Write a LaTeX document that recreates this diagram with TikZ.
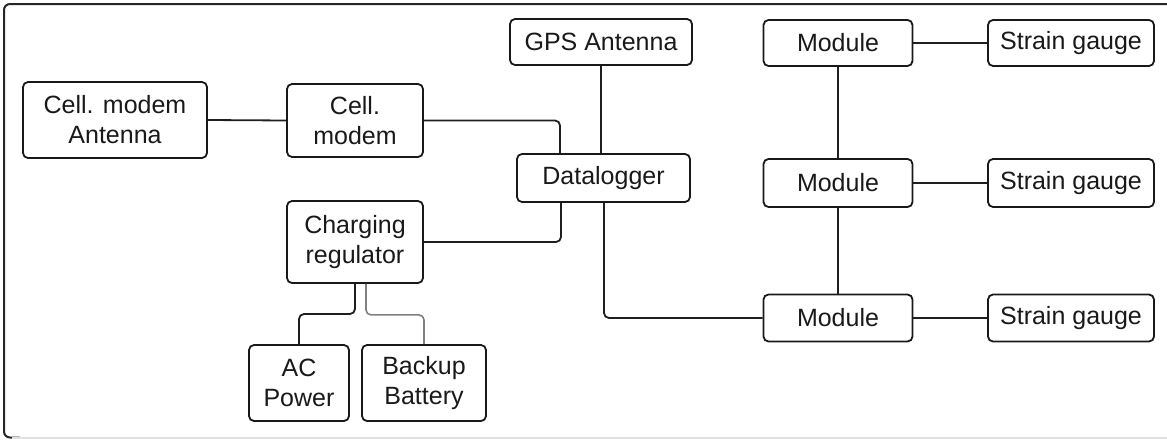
\documentclass[tikz,border=0pt]{standalone}
\usepackage{fontspec}
\setmainfont{Liberation Sans}
\begin{document}
\begin{tikzpicture}[x=1pt,y=-1pt,
  blk/.style={draw=black!90, line width=1.8pt, rounded corners=5pt, inner sep=0pt,
    align=center, font=\fontsize{25}{30}\selectfont, text=black!90},
  wire/.style={draw=black!88, line width=1.8pt, rounded corners=5pt},
  gwire/.style={draw=black!50, line width=1.6pt, rounded corners=5pt}]
\useasboundingbox (0,0) rectangle (1167,439);
% outer frame
\draw[black!85, line width=2pt, rounded corners=6pt] (1175,4) -- (4,4) -- (4,437.5) -- (20,437.5);
\draw[black!12, line width=2pt] (12,437.5) -- (1167,437.5);
% blocks
\node[blk, minimum width=184pt, minimum height=76pt] (cma) at (115,120) {Cell. modem\\Antenna};
\node[blk, minimum width=136pt, minimum height=73pt] (cm) at (355,120.5) {Cell.\\modem};
\node[blk, minimum width=182pt, minimum height=46pt] (gps) at (601,42) {GPS Antenna};
\node[blk, minimum width=173pt, minimum height=48pt] (dl) at (603.5,178) {Datalogger};
\node[blk, minimum width=136pt, minimum height=82pt] (cr) at (355,242) {Charging\\regulator};
\node[blk, minimum width=100pt, minimum height=76pt] (ac) at (299,383) {AC\\Power};
\node[blk, minimum width=124pt, minimum height=76pt] (bb) at (424,383) {Backup\\Battery};
\node[blk, minimum width=149pt, minimum height=46pt] (m1) at (838,43) {Module};
\node[blk, minimum width=166pt, minimum height=46pt] (s1) at (1071,43) {Strain gauge};
\node[blk, minimum width=149pt, minimum height=48pt] (m2) at (838,183) {Module};
\node[blk, minimum width=166pt, minimum height=48pt] (s2) at (1071,183) {Strain gauge};
\node[blk, minimum width=149pt, minimum height=47pt] (m3) at (838,318) {Module};
\node[blk, minimum width=166pt, minimum height=47pt] (s3) at (1071,318) {Strain gauge};
% connections
\draw[wire] (cma.east) -- (cm.east -| cm.west);
\draw[wire] (cm.east) -| ([xshift=-43.5pt]dl.north);
\draw[wire] (gps.south) -- (gps.south |- dl.north);
\draw[wire] ([xshift=-42.5pt]dl.south) |- (cr.east);
\draw[wire] ([xshift=0.5pt]dl.south) |- (m3.west);
\draw[wire] (m1.south) -- (m2.north);
\draw[wire] (m2.south) -- (m3.north);
\draw[wire] (m1.east) -- (s1.west);
\draw[wire] (m2.east) -- (s2.west);
\draw[wire] (m3.east) -- (s3.west);
\coordinate (split) at (355,314);
\draw[wire] (cr.south) -- (split) -| (ac.north);
\draw[gwire] ([xshift=11pt]cr.south) -- ++(0,31) -| (bb.north);
\end{tikzpicture}
\end{document}
